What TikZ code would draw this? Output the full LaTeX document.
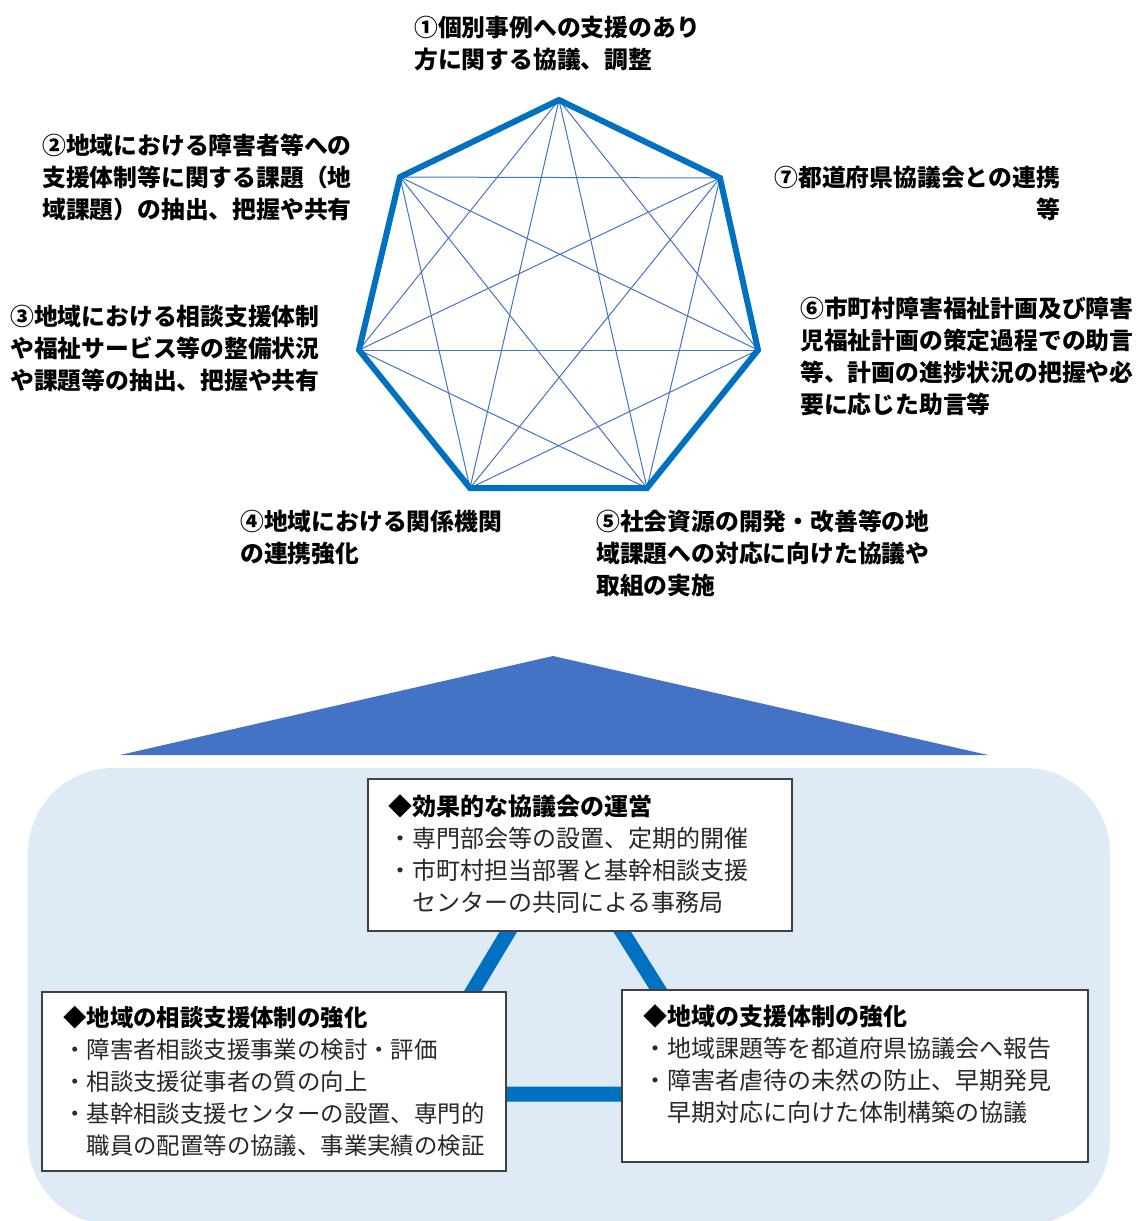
\documentclass[tikz,border=0pt]{standalone}
\usepackage{fontspec}
\newfontfamily\jp{Noto Sans CJK JP}
\definecolor{edgeblue}{RGB}{0,112,192}
\definecolor{diagblue}{RGB}{68,114,196}
\definecolor{regionblue}{RGB}{222,235,247}
\definecolor{boxborder}{RGB}{64,64,64}
\definecolor{bodytext}{RGB}{40,40,40}
\begin{document}
\begin{tikzpicture}[x=1pt,y=-1pt,
  outer/.style={draw=edgeblue,line width=6pt,line join=miter},
  diag/.style={draw=diagblue,line width=1pt},
  lab/.style={font=\jp\bfseries\fontsize{23.8}{32}\selectfont,align=left,inner sep=0pt,anchor=north west},
  boxframe/.style={draw=boxborder,line width=1.5pt,fill=white,inner sep=0pt,anchor=north west},
  boxtext/.style={font=\jp\fontsize{24}{32}\selectfont,text=bodytext,align=left,inner sep=0pt,anchor=north west},
  link/.style={draw=edgeblue,line width=15pt,line join=miter}
]
\useasboundingbox (0,0) rectangle (1137,1221);
% heptagon
\coordinate (v1) at (559,100);
\coordinate (v2) at (400,177);
\coordinate (v3) at (359,350);
\coordinate (v4) at (470,488);
\coordinate (v5) at (647,488);
\coordinate (v6) at (758,350);
\coordinate (v7) at (720,178);
\foreach \a/\b in {1/3,1/4,1/5,1/6,2/4,2/5,2/6,2/7,3/5,3/6,3/7,4/6,4/7,5/7}
  \draw[diag] (v\a) -- (v\b);
\draw[outer] (v1) -- (v2) -- (v3) -- (v4) -- (v5) -- (v6) -- (v7) -- cycle;
% labels
\node[lab] (l1) at (414,16) {①個別事例への支援のあり\\方に関する協議、調整};
\node[lab] (l2) at (42,134) {②地域における障害者等への\\支援体制等に関する課題（地\\域課題）の抽出、把握や共有};
\node[lab] (l3) at (10,305) {③地域における相談支援体制\\や福祉サービス等の整備状況\\や課題等の抽出、把握や共有};
\node[lab] (l4) at (240,510) {④地域における関係機関\\の連携強化};
\node[lab] (l5) at (596,510) {⑤社会資源の開発・改善等の地\\域課題への対応に向けた協議や\\取組の実施};
\node[lab] (l6) at (800,297) {⑥市町村障害福祉計画及び障害\\児福祉計画の策定過程での助言\\等、計画の進捗状況の把握や必\\要に応じた助言等};
\node[lab,anchor=north east,align=right] (l7) at (1060,166) {⑦都道府県協議会との連携\\等};
% big triangle
\fill[diagblue] (553,656) -- (988,755) -- (120,755) -- cycle;
% region
\begin{scope}
\clip (0,0) rectangle (1137,1221);
\fill[regionblue,rounded corners=85pt] (28,768) rectangle (1110,1225);
\end{scope}
% connectors
\coordinate (ca) at (564,839);
\coordinate (cb) at (411,1094);
\coordinate (cc) at (724,1094);
\draw[link] (ca) -- (cb) -- (cc) -- cycle;
% boxes
\node[boxframe,minimum width=424pt,minimum height=152pt] (topbox) at (367,778) {};
\node[boxframe,minimum width=464pt,minimum height=179pt] (leftbox) at (41,991) {};
\node[boxframe,minimum width=466pt,minimum height=172pt] (rightbox) at (621,989) {};
\node[boxtext] (toptext) at ([xshift=21pt,yshift=-16pt]topbox.north west)
  {{\bfseries\color{black}◆効果的な協議会の運営}\\・専門部会等の設置、定期的開催\\・市町村担当部署と基幹相談支援\\　センターの共同による事務局};
\node[boxtext,font=\jp\fontsize{23.4}{32}\selectfont] (lefttext) at ([xshift=22pt,yshift=-15pt]leftbox.north west)
  {{\bfseries\color{black}◆地域の相談支援体制の強化}\\・障害者相談支援事業の検討・評価\\・相談支援従事者の質の向上\\・基幹相談支援センターの設置、専門的\\　職員の配置等の協議、事業実績の検証};
\node[boxtext] (righttext) at ([xshift=22pt,yshift=-15pt]rightbox.north west)
  {{\bfseries\color{black}◆地域の支援体制の強化}\\・地域課題等を都道府県協議会へ報告\\・障害者虐待の未然の防止、早期発見\\　早期対応に向けた体制構築の協議};
\end{tikzpicture}
\end{document}
